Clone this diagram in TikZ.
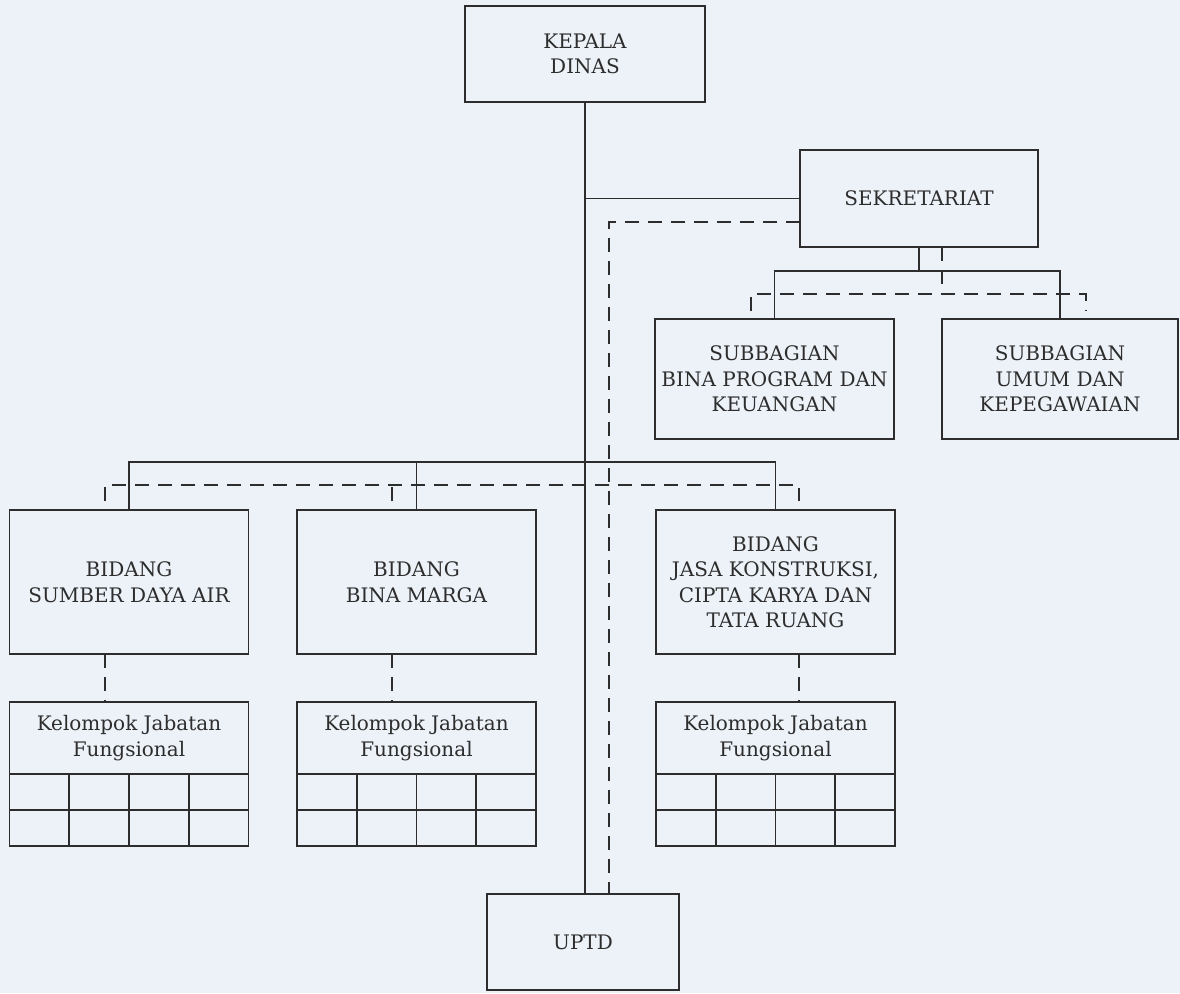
\documentclass[tikz,border=0pt]{standalone}
\usepackage{fontspec}
\setmainfont{DejaVu Serif}
\usetikzlibrary{calc}
\definecolor{bg}{RGB}{237,242,248}
\definecolor{ink}{RGB}{45,45,45}
\begin{document}
\begin{tikzpicture}[x=1pt,y=-1pt,
  box/.style={draw=ink,line width=1.9pt,align=center,inner sep=0pt,outer sep=0pt,text=ink,
              font=\fontsize{20}{25.5}\selectfont},
  bidbox/.style={box,minimum width=239pt,minimum height=144pt},
  kelhead/.style={box,minimum width=239pt,minimum height=72pt},
  ln/.style={draw=ink,line width=1.9pt},
  dsh/.style={ln,dash pattern=on 14pt off 9pt}]
\fill[bg] (0,0) rectangle (1180,993);
\useasboundingbox (0,0) rectangle (1180,993);

% boxes
\node[box,minimum width=240pt,minimum height=96pt] (kepala) at (585,54) {KEPALA\\DINAS};
\node[box,minimum width=238pt,minimum height=97pt] (sek) at (919,198.5) {SEKRETARIAT};
\node[box,minimum width=239pt,minimum height=120pt] (sub1) at (774.5,379) {SUBBAGIAN\\BINA PROGRAM DAN\\KEUANGAN};
\node[box,minimum width=236pt,minimum height=120pt] (sub2) at (1060,379) {SUBBAGIAN\\UMUM DAN\\KEPEGAWAIAN};
\node[bidbox] (bid1) at (129,582) {BIDANG\\SUMBER DAYA AIR};
\node[bidbox] (bid2) at (416.5,582) {BIDANG\\BINA MARGA};
\node[bidbox] (bid3) at (775.5,582) {BIDANG\\JASA KONSTRUKSI,\\CIPTA KARYA DAN\\TATA RUANG};
\node[kelhead] (k1) at (129,738) {Kelompok Jabatan\\Fungsional};
\node[kelhead] (k2) at (416.5,738) {Kelompok Jabatan\\Fungsional};
\node[kelhead] (k3) at (775.5,738) {Kelompok Jabatan\\Fungsional};
\node[box,minimum width=192pt,minimum height=96pt] (uptd) at (583,942) {UPTD};

% grids under the Kelompok boxes
\foreach \k in {k1,k2,k3}{
  \draw[ln] (\k.south west) rectangle ($(\k.south east)+(0,72)$);
  \draw[ln] ($(\k.south west)+(0,36)$) -- ($(\k.south east)+(0,36)$);
  \foreach \f in {0.25,0.5,0.75}
    \draw[ln] ($(\k.south west)!\f!(\k.south east)$) -- ++(0,72);
}

% bend points
\coordinate (dk) at (609,222);
\coordinate (sb) at (919,271);
\coordinate (sd) at (942,294);
\coordinate (sdl) at (751,311);
\coordinate (sdr) at (1086,311);
\coordinate (bh) at (585,462);
\coordinate (bd) at (609,485);
\coordinate (bdl) at (105,501);
\coordinate (bdm) at (392,501);
\coordinate (bdr) at (799,501);

% solid lines of command
\draw[ln] (kepala.south) -- (kepala.south |- uptd.north);
\draw[ln] (kepala.south |- sek.west) -- (sek.west);
\draw[ln] (sek.south) -- (sb);
\draw[ln] (sub1.north) |- (sb) -| (sub2.north);
\draw[ln] (bid1.north) |- (bh) -| (bid3.north);
\draw[ln] (bid2.north) -- (bid2.north |- bh);

% dashed lines of coordination
\draw[dsh] (sek.west |- dk) -- (dk) -- (dk |- uptd.north);
\draw[dsh] (sek.south -| sd) -- (sd);
\draw[dsh] (sdl) |- (sd) -| (sdr);
\draw[dsh] (bdl) |- (bd) -| (bdr);
\draw[dsh] (bdm) -- (bdm |- bd);
\draw[dsh] (bid1.south -| bdl) -- (k1.north -| bdl);
\draw[dsh] (bid2.south -| bdm) -- (k2.north -| bdm);
\draw[dsh] (bid3.south -| bdr) -- (k3.north -| bdr);
\end{tikzpicture}
\end{document}
